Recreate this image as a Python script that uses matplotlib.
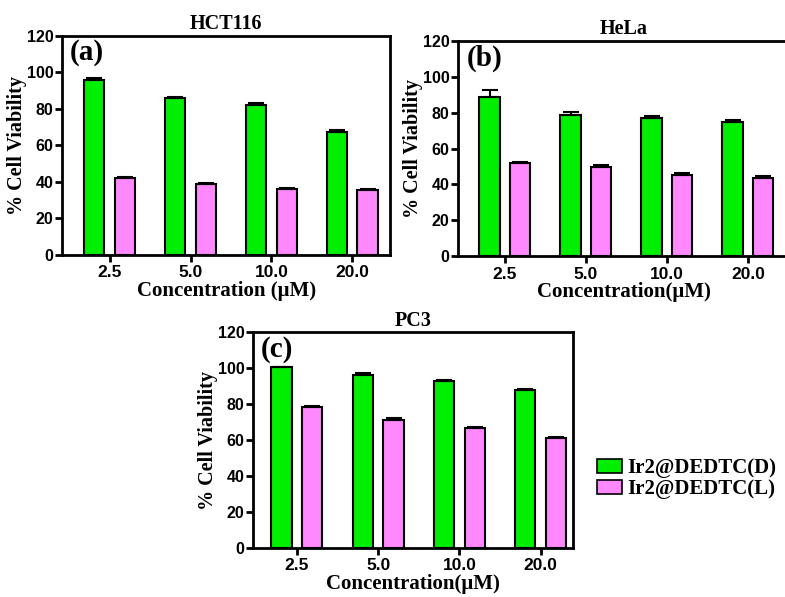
import matplotlib
matplotlib.use("Agg")
import matplotlib.pyplot as plt
import numpy as np
from matplotlib.patches import Patch

categories = ["2.5", "5.0", "10.0", "20.0"]
series_names = ["Ir2@DEDTC(D)", "Ir2@DEDTC(L)"]

hct_D = [96, 86, 82, 67.5]
hct_D_err = [0.8, 0.5, 1.2, 1.0]
hct_L = [42, 39, 36, 35.5]
hct_L_err = [0.6, 0.7, 0.6, 0.7]

hela_D = [89, 79, 77, 75]
hela_D_err = [3.5, 1.5, 1.0, 1.0]
hela_L = [52, 49.5, 45.5, 43.5]
hela_L_err = [0.8, 1.5, 0.8, 1.3]

pc3_D = [100.5, 96.5, 93, 88]
pc3_D_err = [0.4, 1.0, 0.5, 0.5]
pc3_L = [78.5, 71.5, 67, 61]
pc3_L_err = [0.5, 0.8, 0.4, 1.0]

green = "#00ee00"
pink = "#ff88ff"
serif = "Liberation Serif"
sans = "Liberation Sans"

fig = plt.figure(figsize=(7.85, 5.97), dpi=100)

panels = [
    ([0.0790, 0.5729, 0.418, 0.3668], "HCT116", "(a)", "Concentration (\u03bcM)",
     hct_D, hct_D_err, hct_L, hct_L_err, (-0.59, 3.47)),
    ([0.5834, 0.571, 0.423, 0.360], "HeLa", "(b)", "Concentration(\u03bcM)",
     hela_D, hela_D_err, hela_L, hela_L_err, (-0.58, 3.52)),
    ([0.3223, 0.0821, 0.4077, 0.361], "PC3", "(c)", "Concentration(\u03bcM)",
     pc3_D, pc3_D_err, pc3_L, pc3_L_err, (-0.54, 3.4)),
]

x = np.arange(len(categories))
w = 0.25
off = 0.19
for rect, title, lab, xlabel, d, de, l, le, xl in panels:
    ax = fig.add_axes(rect)
    ax.bar(x - off, d, w, color=green, edgecolor="black", linewidth=1.5, zorder=2)
    ax.bar(x + off, l, w, color=pink, edgecolor="black", linewidth=1.5, zorder=2)
    ax.errorbar(x - off, d, yerr=[np.zeros(4), de], fmt="none", ecolor="black",
                elinewidth=1.5, capsize=6, capthick=1.5, zorder=3)
    ax.errorbar(x + off, l, yerr=[np.zeros(4), le], fmt="none", ecolor="black",
                elinewidth=1.5, capsize=6, capthick=1.5, zorder=3)
    ax.set_ylim(0, 120)
    ax.set_xlim(*xl)
    ax.set_yticks(range(0, 121, 20))
    ax.set_xticks(x)
    ax.set_xticklabels(categories)
    for s in ax.spines.values():
        s.set_linewidth(2)
    ax.tick_params(direction="out", width=2, length=5, pad=1.5)
    ax.tick_params(axis="x", labelsize=12.5, pad=2.5)
    ax.tick_params(axis="y", labelsize=11.5, pad=1)
    for t in ax.get_xticklabels() + ax.get_yticklabels():
        t.set_fontfamily(sans)
        t.set_fontweight("bold")
    ax.set_title(title, fontfamily=serif, fontweight="bold", fontsize=14.5, pad=5)
    ax.set_xlabel(xlabel, fontfamily=serif, fontweight="bold", fontsize=15, labelpad=0.5)
    ax.set_ylabel("% Cell Viability", fontfamily=serif, fontweight="bold", fontsize=14.5, labelpad=0)
    ax.text(0.025, 0.985, lab, transform=ax.transAxes, ha="left", va="top",
            fontfamily=serif, fontweight="bold", fontsize=21)

handles = [Patch(facecolor=green, edgecolor="black", linewidth=1.2),
           Patch(facecolor=pink, edgecolor="black", linewidth=1.2)]
fig.legend(handles, series_names, loc="center left", bbox_to_anchor=(0.76, 0.198),
           frameon=False, prop={"family": serif, "weight": "bold", "size": 15},
           handlelength=1.2, handleheight=0.6, handletextpad=0.25, labelspacing=0.05,
           borderaxespad=0, borderpad=0)

fig.savefig("out.png", dpi=100)
